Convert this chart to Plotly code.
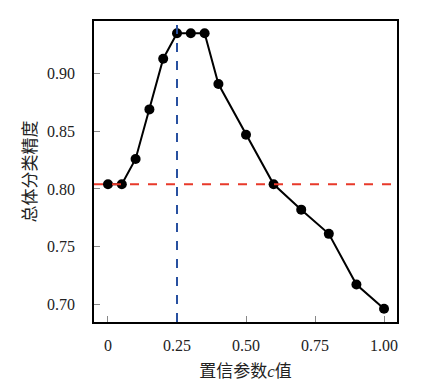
import plotly.graph_objects as go

c_values = [0, 0.05, 0.10, 0.15, 0.20, 0.25, 0.30, 0.35, 0.40, 0.50, 0.60, 0.70, 0.80, 0.90, 1.00]
accuracy = [0.804, 0.804, 0.826, 0.869, 0.913, 0.935, 0.935, 0.935, 0.891, 0.847, 0.804, 0.782, 0.761, 0.717, 0.696]
baseline_acc = 0.804
best_c = 0.25
x_ticks = [0, 0.25, 0.5, 0.75, 1.0]
x_tick_labels = ["0", "0.25", "0.50", "0.75", "1.00"]
y_ticks = [0.70, 0.75, 0.80, 0.85, 0.90]
y_tick_labels = ["0.70", "0.75", "0.80", "0.85", "0.90"]

tick_fam = "Liberation Serif"
title_fam = "Liberation Serif, Noto Sans CJK SC"

fig = go.Figure()
fig.add_trace(go.Scatter(
    x=c_values, y=accuracy, mode="lines+markers",
    line=dict(color="black", width=2),
    marker=dict(color="black", size=10),
    showlegend=False,
))
fig.add_hline(y=baseline_acc, line=dict(color="#e8392a", width=2, dash="dash"))
fig.add_vline(x=best_c, line=dict(color="#2850a0", width=2, dash="dash"))

fig.update_layout(
    width=430, height=382,
    margin=dict(l=86, r=41, t=11, b=68),
    plot_bgcolor="white", paper_bgcolor="white",
    font=dict(family=tick_fam, size=16, color="#222"),
)
fig.update_xaxes(
    range=[-0.0507, 1.047],
    tickvals=x_ticks, ticktext=x_tick_labels,
    tickfont=dict(family=tick_fam, size=16),
    ticklabelstandoff=8,
    ticks="inside", ticklen=6, tickcolor="#888", tickwidth=1,
    showgrid=False, zeroline=False,
    showline=True, linecolor="black", linewidth=1.5, mirror=True,
    title=dict(text="置信参数<i>c</i>值", font=dict(size=17, family=title_fam), standoff=12),
)
fig.update_yaxes(
    range=[0.6845, 0.9457],
    tickvals=y_ticks, ticktext=y_tick_labels,
    tickfont=dict(family=tick_fam, size=16),
    ticklabelstandoff=14,
    ticks="inside", ticklen=6, tickcolor="#888", tickwidth=1,
    showgrid=False, zeroline=False,
    showline=True, linecolor="black", linewidth=1.5, mirror=True,
    title=dict(text="总体分类精度", font=dict(size=17, family=title_fam), standoff=6),
)
fig.write_html("out.html")
